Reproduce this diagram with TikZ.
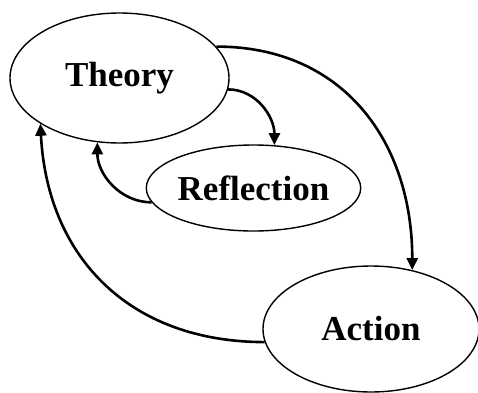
\documentclass[tikz,border=0pt]{standalone}
\usepackage{fontspec}
\setmainfont{Liberation Serif}
\usepackage{tikz}
\usetikzlibrary{shapes.geometric,arrows.meta}

\begin{document}
\begin{tikzpicture}[x=1pt, y=1pt,
    stage/.style={ellipse, draw, line width=1.4pt, inner sep=0pt,
                  font=\fontsize{35}{40}\selectfont\bfseries},
    flow/.style={line width=2.6pt, -{Triangle[length=12pt, width=11pt]}}]

    \useasboundingbox (0,0) rectangle (478,392);

    % Stages
    \node[stage, minimum width=219pt, minimum height=130pt] (theory)  at (119.5,314) {Theory};
    \node[stage, minimum width=177pt, minimum height=86pt]  (reflect) at (253.5,204) {Reflection};
    \node[stage, minimum width=216pt, minimum height=126pt] (action)  at (371,63)    {Action};

    % Inner loop
    \draw[flow] (theory.-6) to[out=0, in=90] (reflect.64);
    \draw[flow] (reflect.188) to[out=180, in=-90] (theory.251);

    % Outer loop
    \draw[flow] (theory.18) to[out=0, in=90, looseness=1.1] (action.55);
    \draw[flow] (action.187) to[out=180, in=-87, looseness=1.1] (theory.210);

\end{tikzpicture}
\end{document}
